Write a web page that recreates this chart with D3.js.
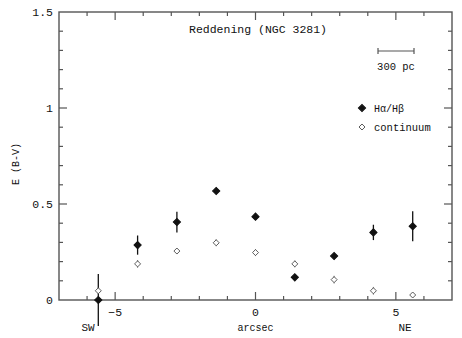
<!DOCTYPE html>
<html><head><meta charset="utf-8">
<script src="https://cdn.jsdelivr.net/npm/d3@7"></script>
<style>body{margin:0;background:#fff}text{font-family:"Liberation Mono","DejaVu Sans Mono",monospace;fill:#111}</style>
</head><body><svg id="c" width="462" height="338"></svg>
<script>
const positions = [-5.6, -4.2, -2.8, -1.4, 0, 1.4, 2.8, 4.2, 5.6];
const balmerValues = [0.0, 0.286, 0.406, 0.568, 0.434, 0.118, 0.229, 0.352, 0.384];
const balmerErrors = [0.135, 0.05, 0.054, 0.012, 0.01, 0.01, 0.008, 0.04, 0.078];
const contValues = [0.048, 0.188, 0.255, 0.298, 0.247, 0.188, 0.106, 0.048, 0.026];
const contErrors = [0.012, 0.02, 0.015, 0.018, 0.018, 0.018, 0.02, 0.02, 0.012];
const xTicks = [-5, 0, 5];
const yTicks = [0, 0.5, 1, 1.5];
const yTickLabels = ["0", "0.5", "1", "1.5"];
const legendLabels = ["Hα/Hβ", "continuum"];

const svg = d3.select("#c");
const L = 59, R = 452, T = 12, B = 300;
const x = d3.scaleLinear().domain([-7, 7]).range([L, R]);
const y = d3.scaleLinear().domain([0, 1.5]).range([B, T]);
const col = "#555";

const g = svg.append("g");
g.append("rect").attr("x", L).attr("y", T).attr("width", R - L).attr("height", B - T)
  .attr("fill", "none").attr("stroke", col).attr("stroke-width", 1.4);

const xMinor = d3.range(-6, 7, 1);
xMinor.forEach(v => {
  const len = (v % 5 === 0) ? 8 : 4;
  g.append("line").attr("x1", x(v)).attr("x2", x(v)).attr("y1", B).attr("y2", B - len).attr("stroke", col).attr("stroke-width", 1.2);
  g.append("line").attr("x1", x(v)).attr("x2", x(v)).attr("y1", T).attr("y2", T + len).attr("stroke", col).attr("stroke-width", 1.2);
});
const yMinor = d3.range(1, 15).map(i => i / 10);
yMinor.forEach(v => {
  const major = Math.abs(v * 2 - Math.round(v * 2)) < 1e-6;
  const len = major ? 8 : 4;
  g.append("line").attr("x1", L).attr("x2", L + len).attr("y1", y(v)).attr("y2", y(v)).attr("stroke", col).attr("stroke-width", 1.2);
  g.append("line").attr("x1", R).attr("x2", R - len).attr("y1", y(v)).attr("y2", y(v)).attr("stroke", col).attr("stroke-width", 1.2);
});

xTicks.forEach(v => {
  g.append("text").attr("x", x(v)).attr("y", B + 16).attr("text-anchor", "middle")
    .attr("font-size", 11.5).text(v < 0 ? "\u2212" + Math.abs(v) : String(v));
});
yTicks.forEach((v, i) => {
  g.append("text").attr("x", L - 6).attr("y", y(v) + 4).attr("text-anchor", "end")
    .attr("font-size", 11.5).text(yTickLabels[i]);
});

g.append("text").attr("x", x(0)).attr("y", 331).attr("text-anchor", "middle").attr("font-size", 10).text("arcsec");
g.append("text").attr("x", 88).attr("y", 331).attr("text-anchor", "middle").attr("font-size", 11).text("SW");
g.append("text").attr("x", 405).attr("y", 331).attr("text-anchor", "middle").attr("font-size", 11).text("NE");
g.append("text").attr("transform", "translate(19,164) rotate(-90)").attr("text-anchor", "middle").attr("font-size", 10).text("E (B-V)");

g.append("text").attr("x", 258).attr("y", 33).attr("text-anchor", "middle").attr("font-size", 11.5).text("Reddening (NGC 3281)");

const sb1 = 378, sb2 = 414, sby = 51;
g.append("line").attr("x1", sb1).attr("x2", sb2).attr("y1", sby).attr("y2", sby).attr("stroke", col).attr("stroke-width", 1.2);
[sb1, sb2].forEach(sx => g.append("line").attr("x1", sx).attr("x2", sx).attr("y1", sby - 3).attr("y2", sby + 3).attr("stroke", col).attr("stroke-width", 1.2));
g.append("text").attr("x", 396).attr("y", 70).attr("text-anchor", "middle").attr("font-size", 10.5).text("300 pc");

function errBars(vals, errs, stroke, w) {
  g.append("g").selectAll("line").data(positions).join("line")
    .attr("x1", d => x(d)).attr("x2", d => x(d))
    .attr("y1", (d, i) => y(vals[i] - errs[i])).attr("y2", (d, i) => y(vals[i] + errs[i]))
    .attr("stroke", stroke).attr("stroke-width", w);
}
errBars(contValues, contErrors, "#666", 1);
errBars(balmerValues, balmerErrors, "#111", 1.3);

// square rotated 45 deg -> even diamond
const diamond = d3.symbol().type(d3.symbolSquare).size(26);
const diamondOpen = d3.symbol().type(d3.symbolSquare).size(18);
g.append("g").selectAll("path").data(positions).join("path")
  .attr("d", diamondOpen).attr("transform", (d, i) => `translate(${x(d)},${y(contValues[i])}) rotate(45)`)
  .attr("fill", "#fff").attr("stroke", "#555").attr("stroke-width", 0.9);
g.append("g").selectAll("path").data(positions).join("path")
  .attr("d", diamond).attr("transform", (d, i) => `translate(${x(d)},${y(balmerValues[i])}) rotate(45)`)
  .attr("fill", "#111").attr("stroke", "#111").attr("stroke-width", 1);

g.append("path").attr("d", diamond).attr("transform", "translate(362,108) rotate(45)").attr("fill", "#111").attr("stroke", "#111").attr("stroke-width", 1);
g.append("path").attr("d", diamondOpen).attr("transform", "translate(362,127) rotate(45)").attr("fill", "#fff").attr("stroke", "#555").attr("stroke-width", 0.9);
g.append("text").attr("x", 374).attr("y", 111.5).attr("font-size", 10).attr("font-family", "DejaVu Serif").text(legendLabels[0]);
g.append("text").attr("x", 374).attr("y", 130.5).attr("font-size", 10.5).text(legendLabels[1]);
</script></body></html>
